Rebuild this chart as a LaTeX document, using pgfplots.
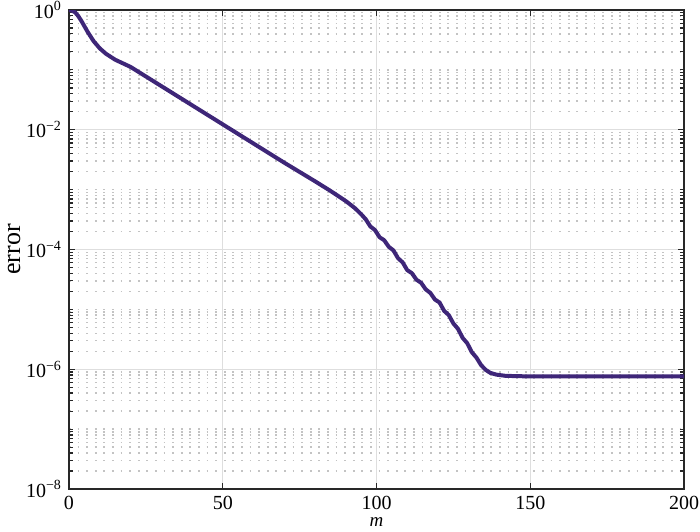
\documentclass[border=0pt]{standalone}
\usepackage{pgfplots}
\pgfplotsset{compat=1.18}
\usepackage{pgfplotstable}
\usepackage{fontspec}
\setmainfont{Liberation Serif}
\definecolor{curve}{RGB}{62,38,120}
\definecolor{axcol}{RGB}{40,40,40}
\definecolor{majgrid}{RGB}{222,222,222}
\definecolor{mingrid}{RGB}{195,195,195}

% m, log10(error)
\pgfplotstableread{
m ly
0 0
1 -0.01
2 -0.04
3 -0.10
4 -0.18
5 -0.27
6 -0.36
7 -0.44
8 -0.52
10 -0.64
12 -0.73
15 -0.83
20 -0.95
30 -1.27
40 -1.59
50 -1.91
60 -2.23
70 -2.55
80 -2.86
85 -3.02
90 -3.19
93 -3.31
95 -3.41
96.5 -3.495
98 -3.615
99.5 -3.675
101 -3.795
102.5 -3.845
104 -3.955
105.5 -4.015
107 -4.145
108.5 -4.215
110 -4.345
111.5 -4.395
113 -4.505
114.5 -4.555
116 -4.665
117.5 -4.725
119 -4.835
120.5 -4.885
122 -5.025
123.5 -5.095
125 -5.235
126.5 -5.325
128 -5.475
129.5 -5.565
131 -5.715
132.5 -5.805
134 -5.93
135.5 -6.01
137 -6.06
139 -6.09
142 -6.11
150 -6.12
160 -6.12
170 -6.12
180 -6.12
190 -6.12
200 -6.12
}\errdata

\begin{document}
\begin{tikzpicture}
\begin{axis}[
    name=ax,
    scale only axis,
    width=307.5pt,
    height=239.5pt,
    ymode=log,
    xmin=0, xmax=200,
    ymin=1e-8, ymax=1,
    xtick={0,50,100,150,200},
    ytick={1e-8,1e-6,1e-4,1e-2,1},
    yticklabels={10\textsuperscript{−8},10\textsuperscript{−6},10\textsuperscript{−4},10\textsuperscript{−2},10\textsuperscript{0}},
    minor ytick={2e-8,3e-8,4e-8,5e-8,6e-8,7e-8,8e-8,9e-8,
                 1e-7,2e-7,3e-7,4e-7,5e-7,6e-7,7e-7,8e-7,9e-7,
                 2e-6,3e-6,4e-6,5e-6,6e-6,7e-6,8e-6,9e-6,
                 1e-5,2e-5,3e-5,4e-5,5e-5,6e-5,7e-5,8e-5,9e-5,
                 2e-4,3e-4,4e-4,5e-4,6e-4,7e-4,8e-4,9e-4,
                 1e-3,2e-3,3e-3,4e-3,5e-3,6e-3,7e-3,8e-3,9e-3,
                 2e-2,3e-2,4e-2,5e-2,6e-2,7e-2,8e-2,9e-2,
                 1e-1,2e-1,3e-1,4e-1,5e-1,6e-1,7e-1,8e-1,9e-1},
    /pgf/number format/assume math mode=true,
    tick label style={font=\fontsize{10}{12}\selectfont, text=black},
    xmajorgrids, ymajorgrids, yminorgrids,
    major grid style={majgrid, line width=0.6pt},
    minor grid style={mingrid, line width=0.7pt, dash pattern=on 0.9pt off 3.4pt},
    axis line style={axcol, line width=0.7pt},
    tick style={axcol, line width=0.6pt},
    major tick length=3pt,
    minor tick length=2pt,
    tick align=inside,
    xtick pos=both, ytick pos=both,
    xlabel={\textit{m}},
    ylabel={error},
    xlabel style={font=\fontsize{9.5}{11}\selectfont, at={(axis description cs:0.5,0)}, anchor=center, yshift=-16.5pt},
    ylabel style={font=\fontsize{13}{15}\selectfont},
    ylabel shift=-4pt,
    clip=true,
]
\addplot[curve, line width=2pt, line join=round] table[x=m, y expr=10^(\thisrow{ly})] {\errdata};
\end{axis}
\pgfresetboundingbox
\path (ax.south west) ++(-34.5pt,-21pt) rectangle ([shift={(8pt,5pt)}]ax.north east);
\end{tikzpicture}
\end{document}
